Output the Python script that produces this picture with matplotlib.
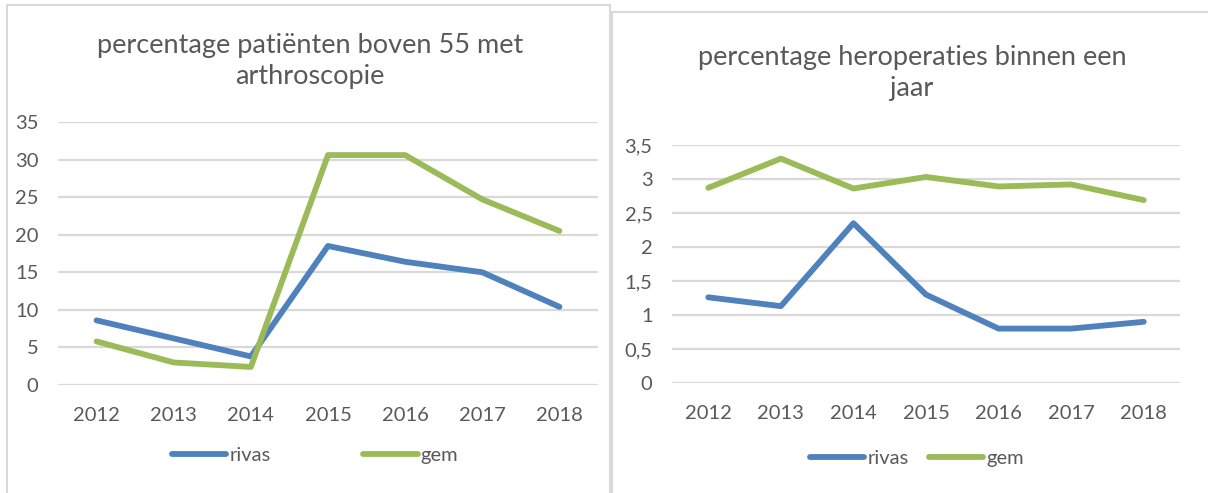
import matplotlib.pyplot as plt
from matplotlib.patches import Rectangle
from matplotlib.ticker import MultipleLocator, FuncFormatter

plt.rcParams['font.family'] = ['Lato', 'DejaVu Sans']

years = ['2012', '2013', '2014', '2015', '2016', '2017', '2018']

# percentage patienten boven 55 met arthroscopie
arthro_rivas = [8.6, 6.2, 3.8, 18.5, 16.4, 15.0, 10.4]
arthro_gem = [5.8, 3.0, 2.4, 30.6, 30.6, 24.7, 20.5]

# percentage heroperaties binnen een jaar
herop_rivas = [1.26, 1.13, 2.35, 1.30, 0.80, 0.80, 0.90]
herop_gem = [2.87, 3.30, 2.86, 3.03, 2.89, 2.92, 2.69]

BLUE = '#4F81BD'
GREEN = '#9BBB59'
TEXT = '#595959'
GRID = '#D9D9D9'

W, H = 1208, 493
fig = plt.figure(figsize=(W / 100, H / 100), dpi=100)

# chart frames (running off the bottom / right like the screenshot)
fig.patches.append(Rectangle((7 / W, -0.1), 603 / W, 1.1 - 5 / H, transform=fig.transFigure,
                             fill=False, edgecolor=GRID, linewidth=1.5))
fig.patches.append(Rectangle((612 / W, -0.1), 600 / W, 1.1 - 12 / H, transform=fig.transFigure,
                             fill=False, edgecolor=GRID, linewidth=1.5))


def styleAxis(ax, ymax, step, comma=False):
    x = range(len(years))
    ax.set_xlim(-0.5, len(years) - 0.5)
    ax.set_ylim(0, ymax)
    ax.yaxis.set_major_locator(MultipleLocator(step))
    if comma:
        ax.yaxis.set_major_formatter(FuncFormatter(lambda v, p: ('%g' % v).replace('.', ',')))
    ax.set_xticks(list(x))
    ax.set_xticklabels(years)
    for s in ax.spines.values():
        s.set_visible(False)
    ax.grid(axis='y', color=GRID, linewidth=1.6)
    ax.set_axisbelow(True)
    ax.tick_params(axis='both', length=0, labelsize=14.5, colors=TEXT)
    ax.tick_params(axis='y', pad=14)
    ax.tick_params(axis='x', pad=16)


def drawLines(ax, rivas, gem):
    x = range(len(years))
    ax.plot(x, rivas, color=BLUE, linewidth=4.2, solid_capstyle='round', solid_joinstyle='round', label='rivas')
    ax.plot(x, gem, color=GREEN, linewidth=4.2, solid_capstyle='round', solid_joinstyle='round', label='gem')


# left chart
ax1 = fig.add_axes([58 / W, 108 / H, 540 / W, 263 / H])
drawLines(ax1, arthro_rivas, arthro_gem)
styleAxis(ax1, 35, 5)
fig.text(310 / W, 1 - 61 / H, 'percentage patiënten boven 55 met\narthroscopie',
         ha='center', va='center', fontsize=19.5, color=TEXT, linespacing=1.32)
ax1.legend(loc='center', bbox_to_anchor=(315 / W, 1 - 455 / H), bbox_transform=fig.transFigure,
           ncol=2, frameon=False, fontsize=14.5, labelcolor=TEXT, handlelength=2.7,
           handletextpad=0.15, columnspacing=4.6)

# right chart
ax2 = fig.add_axes([672 / W, 110 / H, 508 / W, 238 / H])
drawLines(ax2, herop_rivas, herop_gem)
styleAxis(ax2, 3.5, 0.5, comma=True)
fig.text(912 / W, 1 - 73 / H, 'percentage heroperaties binnen een\njaar',
         ha='center', va='center', fontsize=19.5, color=TEXT, linespacing=1.32)
ax2.legend(loc='center', bbox_to_anchor=(917 / W, 1 - 458 / H), bbox_transform=fig.transFigure,
           ncol=2, frameon=False, fontsize=14.5, labelcolor=TEXT, handlelength=2.7,
           handletextpad=0.15, columnspacing=1.0)

fig.savefig('out.png', dpi=100)
